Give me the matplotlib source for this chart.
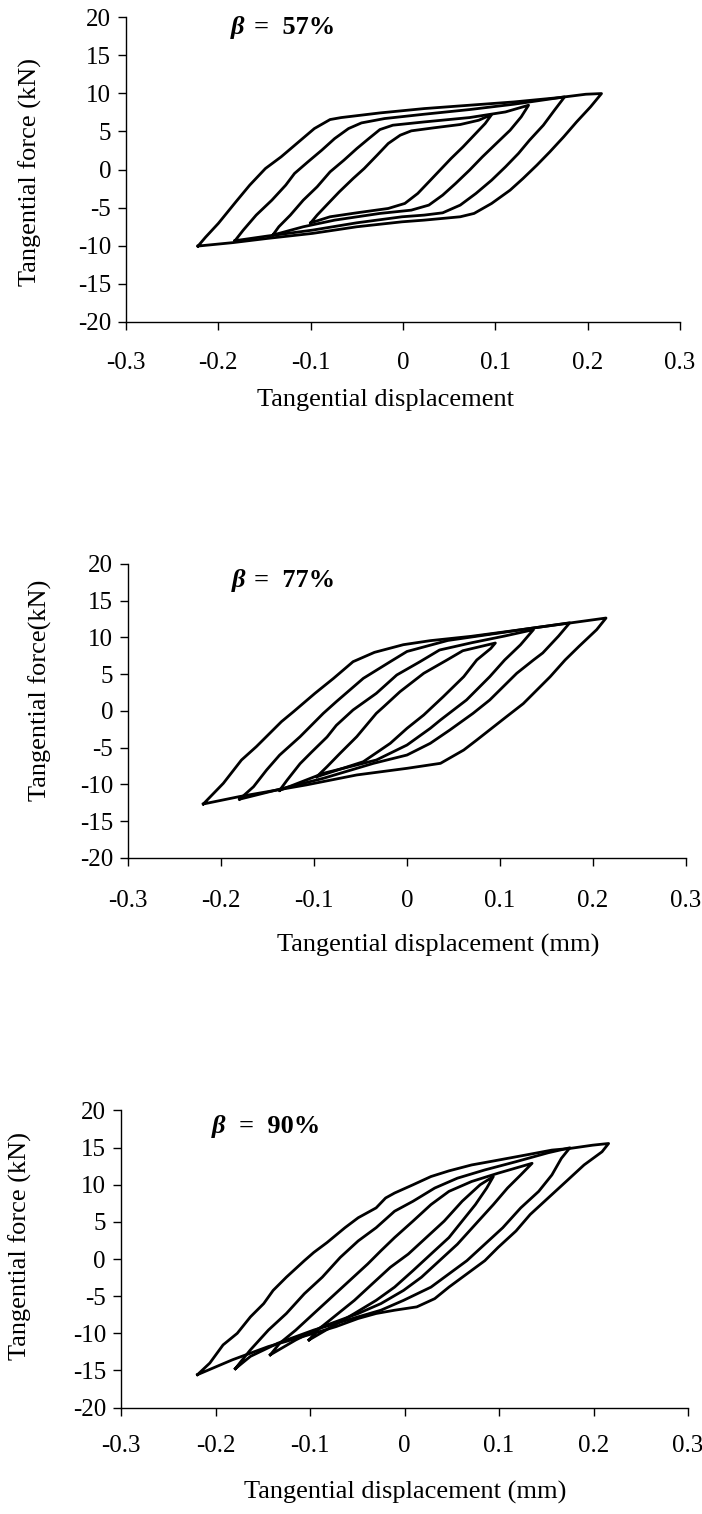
import matplotlib
matplotlib.use("Agg")
import matplotlib.pyplot as plt

plt.rcParams['font.family'] = ['Liberation Serif', 'DejaVu Serif']
plt.rcParams['axes.unicode_minus'] = False

# ---------------- data (displacement mm, force kN) ----------------
x_ticks = [-0.3, -0.2, -0.1, 0, 0.1, 0.2, 0.3]
x_tick_labels = ['-0.3', '-0.2', '-0.1', '0', '0.1', '0.2', '0.3']
y_ticks = [20, 15, 10, 5, 0, -5, -10, -15, -20]
y_tick_labels = ['20', '15', '10', '5', '0', '-5', '-10', '-15', '-20']

beta_labels = ['57%', '77%', '90%']
y_labels = ['Tangential force (kN)', 'Tangential force(kN)', 'Tangential force (kN)']
x_labels = ['Tangential displacement', 'Tangential displacement (mm)',
            'Tangential displacement (mm)']

# beta = 57 %
d57_a = [-0.100, -0.093, -0.081, -0.069, -0.054, -0.042, -0.028, -0.016, -0.003, 0.009,
         0.033, 0.062, 0.082, 0.096,
         0.089, 0.077, 0.065, 0.052, 0.040, 0.028, 0.016, 0.002, -0.016,
         -0.050, -0.079, -0.100]
f57_a = [-7.0, -5.98, -4.45, -2.93, -1.18, 0.13, 1.88, 3.41, 4.5, 5.07,
         5.46, 5.9, 6.46, 7.2,
         6.03, 4.5, 2.97, 1.44, -0.09, -1.62, -3.14, -4.45, -5.11,
         -5.68, -6.2, -7.0]
d57_b = [-0.141, -0.1345, -0.122, -0.108, -0.093, -0.079, -0.064, -0.050, -0.037, -0.025, -0.011,
         0.023, 0.072, 0.111, 0.136,
         0.128, 0.116, 0.101, 0.086, 0.072, 0.057, 0.043, 0.028, 0.009,
         -0.025, -0.074, -0.108, -0.141]
f57_b = [-8.6, -7.51, -5.98, -4.02, -2.27, -0.31, 1.22, 2.75, 4.06, 5.24, 5.81,
         6.24, 6.81, 7.55, 8.43,
         6.9, 5.15, 3.41, 1.66, -0.09, -1.83, -3.36, -4.67, -5.33,
         -5.76, -6.64, -7.51, -8.6]
d57_c = [-0.182, -0.173, -0.159, -0.142, -0.127, -0.1175, -0.103, -0.088, -0.074, -0.059, -0.045,
         -0.020, 0.023, 0.072, 0.120, 0.175,
         0.164, 0.152, 0.137, 0.125, 0.111, 0.096, 0.079, 0.062, 0.043,
         0.023, -0.001, -0.050, -0.098, -0.147, -0.182]
f57_c = [-9.34, -7.95, -5.98, -4.02, -2.05, -0.52, 1.0, 2.53, 4.06, 5.37, 6.11,
         6.68, 7.25, 7.86, 8.56, 9.52,
         7.77, 5.81, 3.84, 2.1, 0.35, -1.4, -3.14, -4.67, -5.68,
         -5.98, -6.2, -6.99, -7.95, -8.73, -9.34]
d57_d = [-0.222, -0.214, -0.200, -0.181, -0.166, -0.149, -0.132, -0.113, -0.096, -0.079, -0.067,
         -0.025, 0.023, 0.072, 0.120, 0.169, 0.198, 0.215,
         0.203, 0.188, 0.174, 0.159, 0.145, 0.130, 0.116, 0.096, 0.077, 0.062,
         0.023, -0.001, -0.050, -0.098, -0.147, -0.185, -0.222]
f57_d = [-10.04, -8.9, -7.07, -4.24, -2.05, 0.13, 1.66, 3.62, 5.37, 6.55, 6.81,
         7.42, 7.99, 8.43, 8.86, 9.43, 9.87, 9.96,
         8.2, 6.24, 4.28, 2.31, 0.57, -1.18, -2.71, -4.45, -5.76, -6.2,
         -6.64, -6.86, -7.51, -8.38, -9.04, -9.6, -10.04]

# beta = 77 %
d77_a = [-0.097, -0.086, -0.072, -0.054, -0.033, -0.025, -0.0075, 0.018, 0.043, 0.060, 0.080, 0.095,
         0.090, 0.075, 0.061, 0.039, 0.018, 0.0, -0.018, -0.047, -0.097]
f77_a = [-8.94, -7.58, -5.76, -3.49, -0.32, 0.59, 2.63, 5.13, 6.94, 8.2, 8.8, 9.25,
         8.5, 6.94, 4.67, 1.95, -0.54, -2.36, -4.4, -6.9, -8.94]
d77_b = [-0.137, -0.129, -0.115, -0.1025, -0.086, -0.076, -0.058, -0.033, -0.011, 0.014, 0.035, 0.070, 0.105, 0.136,
         0.122, 0.105, 0.089, 0.064, 0.036, 0.025, 0.0, -0.033, -0.090, -0.137]
f77_b = [-10.8, -9.42, -7.17, -5.58, -3.54, -1.95, 0.14, 2.4, 4.9, 6.71, 8.3, 9.3, 10.2, 11.07,
         9.0, 6.94, 4.67, 1.5, -1.22, -2.36, -4.63, -6.67, -8.48, -10.8]
d77_c = [-0.180, -0.165, -0.151, -0.137, -0.115, -0.090, -0.076, -0.047, -0.018, 0.0, 0.044, 0.093, 0.136, 0.175,
         0.163, 0.146, 0.136, 0.118, 0.089, 0.071, 0.046, 0.025, 0.0, -0.036, -0.090, -0.180]
f77_c = [-12.0, -10.3, -8.03, -6.0, -3.5, -0.32, 1.27, 4.44, 6.71, 8.1, 9.6, 10.5, 11.3, 12.0,
         10.2, 7.9, 6.94, 5.13, 1.5, -0.32, -2.59, -4.4, -5.99, -7.12, -9.16, -12.0]
d77_d = [-0.219, -0.1975, -0.178, -0.162, -0.135, -0.122, -0.099, -0.079, -0.058, -0.035, -0.004, 0.025, 0.069, 0.117, 0.175, 0.214,
         0.204, 0.185, 0.170, 0.154, 0.125, 0.107, 0.075, 0.061, 0.036, 0.0, -0.054, -0.108, -0.180, -0.219]
f77_d = [-12.65, -9.84, -6.67, -4.85, -1.45, -0.09, 2.4, 4.44, 6.71, 7.98, 9.02, 9.57, 10.16, 10.97, 11.97, 12.65,
         11.07, 8.8, 6.94, 4.67, 1.0, -0.77, -3.95, -5.31, -7.12, -7.8, -8.7, -10.05, -11.64, -12.65]

# beta = 90 %
d90_a = [-0.101, -0.092, -0.0725, -0.053, -0.034, -0.015, 0.004, 0.023, 0.042, 0.061, 0.080, 0.094,
         0.087, 0.075, 0.061, 0.047, 0.028, 0.009, -0.0105, -0.030, -0.053, -0.077, -0.101]
f90_a = [-10.89, -9.56, -7.56, -5.56, -3.33, -1.11, 0.67, 2.89, 5.11, 7.78, 10.0, 11.11,
         9.56, 7.33, 5.11, 2.89, 0.67, -1.56, -3.78, -5.56, -7.33, -9.11, -10.89]
d90_b = [-0.142, -0.132, -0.115, -0.096, -0.077, -0.058, -0.039, -0.025, -0.0105, 0.009, 0.028, 0.047, 0.071, 0.099, 0.135,
         0.123, 0.109, 0.094, 0.075, 0.056, 0.037, 0.018, -0.001, -0.025, -0.049, -0.087, -0.115, -0.142]
f90_b = [-12.89, -11.33, -9.56, -7.33, -5.11, -2.89, -0.67, 1.11, 2.89, 5.11, 7.33, 9.11, 10.44, 11.56, 12.89,
         11.33, 9.56, 7.33, 4.67, 2.0, -0.22, -2.44, -4.22, -6.0, -7.33, -9.11, -10.89, -12.89]
d90_c = [-0.179, -0.173, -0.163, -0.144, -0.125, -0.106, -0.087, -0.068, -0.049, -0.030, -0.0105, 0.009, 0.032, 0.056, 0.085, 0.118, 0.152, 0.175,
         0.166, 0.156, 0.142, 0.123, 0.104, 0.085, 0.066, 0.047, 0.028, -0.001, -0.025, -0.049, -0.096, -0.134, -0.163, -0.179]
f90_c = [-14.76, -13.78, -12.22, -9.56, -7.33, -4.67, -2.44, 0.22, 2.44, 4.22, 6.44, 7.78, 9.56, 10.89, 12.0, 13.11, 14.31, 14.98,
         13.56, 11.33, 9.11, 6.89, 4.22, 2.0, -0.22, -2.0, -3.78, -5.56, -6.89, -7.78, -9.56, -11.33, -13.1, -14.76]
d90_d = [-0.219, -0.206, -0.192, -0.177, -0.163, -0.149, -0.139, -0.125, -0.106, -0.096, -0.082, -0.063, -0.049, -0.030, -0.020, -0.0105,
         0.009, 0.028, 0.047, 0.071, 0.094, 0.128, 0.156, 0.175, 0.199, 0.216,
         0.209, 0.190, 0.171, 0.152, 0.133, 0.118, 0.099, 0.085, 0.066, 0.047, 0.032, 0.013, -0.0105, -0.030, -0.049, -0.0725, -0.096, -0.144, -0.182, -0.219]
f90_d = [-15.56, -14.0, -11.56, -10.0, -7.78, -6.0, -4.22, -2.44, -0.22, 0.89, 2.22, 4.22, 5.56, 6.89, 8.22, 8.89,
         10.0, 11.11, 11.87, 12.67, 13.2, 14.0, 14.67, 14.89, 15.33, 15.56,
         14.44, 12.67, 10.44, 8.22, 6.0, 3.78, 1.56, -0.22, -2.0, -3.78, -5.33, -6.44, -6.89, -7.33, -8.0, -9.1, -10.0, -11.78, -13.56, -15.56]

loops = [
    [(d57_a, f57_a), (d57_b, f57_b), (d57_c, f57_c), (d57_d, f57_d)],
    [(d77_a, f77_a), (d77_b, f77_b), (d77_c, f77_c), (d77_d, f77_d)],
    [(d90_a, f90_a), (d90_b, f90_b), (d90_c, f90_c), (d90_d, f90_d)],
]

# ---------------- layout ----------------
W, H = 702, 1514
fig = plt.figure(figsize=(W / 100, H / 100), dpi=100)

# axes boxes in pixels: left, right, top, bottom
boxes = [(126, 680, 17, 322), (128, 686, 564, 858), (121, 688, 1110.5, 1407.6)]
beta_pos = [(-0.187, -0.161, 18.6), (-0.188, -0.164, 17.7), (-0.204, -0.1755, 17.9)]
ylab_pos = [(-0.173, 0.492), (-0.158, 0.571), (-0.178, 0.544)]
xlab_pos = [(0.469, -0.256), (0.556, -0.296), (0.501, -0.284)]
xtick_pad = [16, 17, 14]

for i in range(3):
    l, r, t, b = boxes[i]
    ax = fig.add_axes([l / W, 1 - b / H, (r - l) / W, (b - t) / H])
    for xs, fs in loops[i]:
        ax.plot(xs, fs, color='black', lw=2.0, solid_joinstyle='round')
    ax.set_xlim(-0.3, 0.3)
    ax.set_ylim(-20, 20)
    ax.set_xticks(x_ticks)
    ax.set_xticklabels(x_tick_labels)
    ax.set_yticks(y_ticks)
    ax.set_yticklabels(y_tick_labels)
    for s in ['top', 'right']:
        ax.spines[s].set_visible(False)
    for s in ['left', 'bottom']:
        ax.spines[s].set_linewidth(1.0)
    ax.tick_params(axis='both', direction='out', length=5.8, width=1.0,
                   labelsize=18, colors='black')
    ax.tick_params(axis='x', pad=xtick_pad[i])
    ax.tick_params(axis='y', pad=5)

    ax.set_ylabel(y_labels[i], fontsize=19)
    ax.yaxis.set_label_coords(*ylab_pos[i])
    ax.yaxis.label.set_verticalalignment('center')
    ax.set_xlabel(x_labels[i], fontsize=19)
    ax.xaxis.set_label_coords(*xlab_pos[i])
    ax.xaxis.label.set_verticalalignment('center')

    bx, ex, by = beta_pos[i]
    ax.text(bx, by, '\u03b2', fontsize=19, fontweight='bold', fontstyle='italic',
            ha='left', va='center')
    ax.text(ex, by, '=  ' + beta_labels[i], fontsize=19, fontweight='bold',
            ha='left', va='center')

fig.savefig('out.png', dpi=100, facecolor='white')
